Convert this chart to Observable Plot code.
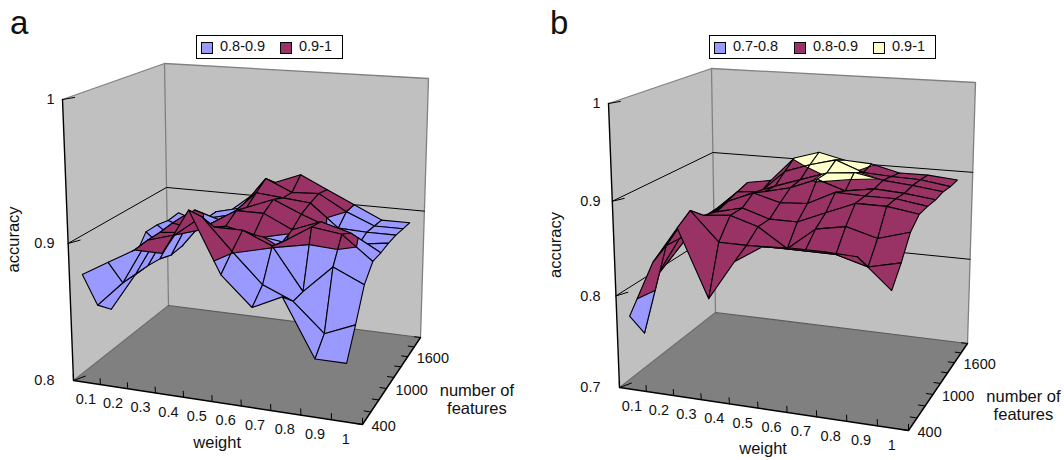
<!DOCTYPE html>
<html>
<head>
<meta charset="utf-8">
<script src="https://cdn.jsdelivr.net/npm/d3@7"></script>
<script src="https://cdn.jsdelivr.net/npm/@observablehq/plot@0.6"></script>
<style>
html,body{margin:0;padding:0;background:#fff;}
#page{position:relative;width:1064px;height:460px;overflow:hidden;font-family:"Liberation Sans",Arial,sans-serif;color:#111;}
#page svg{position:absolute;top:0;background:transparent;}
.letter{position:absolute;font-size:33px;line-height:33px;}
.legend{position:absolute;top:35px;height:22px;border:1px solid #000;background:#fff;font-size:14.5px;white-space:nowrap;}
.legend i{position:absolute;top:6px;width:10px;height:10px;border:1px solid #000;}
.legend span{position:absolute;top:2px;line-height:17px;}
</style>
</head>
<body>
<div id="page"></div>
<script>
// ---------- data ----------
const weights = ["0.1","0.2","0.3","0.4","0.5","0.6","0.7","0.8","0.9","1"];
const features = [400,600,800,1000,1200,1400,1600,1800,2000];
const featureLabels = [400,1000,1600];

const accuracyA = [
 [.879,.890,.901,.901,.933,.891,.871,.881,.841,.841],
 [.850,.869,.902,.908,.923,.901,.880,.871,.851,.860],
 [.840,.869,.902,.904,.910,.910,.901,.871,.891,.881],
 [.853,.869,.903,.901,.905,.901,.898,.911,.908,.891],
 [.867,.868,.903,.899,.911,.911,.901,.909,.903,.891],
 [.881,.865,.902,.896,.908,.916,.907,.899,.889,.892],
 [.881,.866,.890,.895,.914,.912,.910,.893,.892,.892],
 [.879,.872,.890,.895,.920,.911,.912,.900,.891,.891],
 [.880,.873,.883,.899,.912,.920,.910,.900,.890,.890]
];
const accuracyB = [
 [.780,.841,.880,.810,.852,.871,.873,.873,.872,.842],
 [.751,.850,.890,.860,.860,.861,.861,.861,.852,.860],
 [.803,.849,.877,.880,.871,.851,.875,.881,.872,.882],
 [.812,.849,.873,.880,.871,.871,.884,.897,.897,.892],
 [.823,.853,.877,.889,.881,.883,.898,.897,.897,.892],
 [.830,.856,.873,.883,.890,.902,.892,.897,.895,.891],
 [.838,.858,.871,.882,.892,.902,.905,.899,.896,.892],
 [.838,.863,.866,.892,.902,.910,.898,.896,.895,.890],
 [.837,.867,.872,.901,.910,.903,.901,.893,.893,.890]
];
const ticksA = [0.8,0.9,1];
const ticksB = [0.7,0.8,0.9,1];
const bandsA = [{lo:0.8,hi:0.9,label:"0.8-0.9",color:"#9999ff"},{lo:0.9,hi:1,label:"0.9-1",color:"#993366"}];
const bandsB = [{lo:0.7,hi:0.8,label:"0.7-0.8",color:"#9999ff"},{lo:0.8,hi:0.9,label:"0.8-0.9",color:"#993366"},{lo:0.9,hi:1,label:"0.9-1",color:"#ffffcc"}];

// camera of each panel: corners of the floor and of the top of the box, page pixels
const boxA = {floor:[[73,380],[362,424],[420,337],[168,305]], top:[[62,99],[363,125],[428,78],[164,63]]};
const boxB = {floor:[[619,387],[908,430],[967,343],[715,312]], top:[[608,103],[909,131],[975,82],[711,68]]};

// ---------- projection ----------
function homography(q){
  const [[x0,y0],[x1,y1],[x2,y2],[x3,y3]] = q;
  const dx1=x1-x2,dx2=x3-x2,sx=x0-x1+x2-x3,dy1=y1-y2,dy2=y3-y2,sy=y0-y1+y2-y3;
  const den=dx1*dy2-dx2*dy1, g=(sx*dy2-dx2*sy)/den, h=(dx1*sy-sx*dy1)/den;
  const a=x1-x0+g*x1,b=x3-x0+h*x3,d=y1-y0+g*y1,e=y3-y0+h*y3;
  return (u,v)=>{const w=g*u+h*v+1;return [(a*u+b*v+x0)/w,(d*u+e*v+y0)/w];};
}
function makeProjector(box,zMin,zMax,offset){
  const F=homography(box.floor),T=homography(box.top),k=1.05;
  return (u,v,z)=>{
    const w=(z-zMin)/(zMax-zMin),t=w/(w+k*(1-w));
    const a=F(u,v),b=T(u,v);
    return [a[0]+t*(b[0]-a[0])-offset,a[1]+t*(b[1]-a[1])];
  };
}
function clip(poly,keep,cross){
  const out=[];
  poly.forEach((p,i)=>{
    const n=poly[(i+1)%poly.length];
    const pk=keep(p),nk=keep(n);
    if(pk) out.push(p);
    if(pk!==nk){const s=(cross-p[2])/(n[2]-p[2]);out.push([p[0]+s*(n[0]-p[0]),p[1]+s*(n[1]-p[1]),cross]);}
  });
  return out;
}

function panel({box,matrix,bands,ticks,offset,accDx}){
  const zMin=ticks[0],zMax=ticks[ticks.length-1];
  const P=makeProjector(box,zMin,zMax,offset);
  const nU=weights.length,nV=features.length;
  const U=i=>(i+.5)/nU,V=j=>j/(nV-1);

  // surface pieces, painted from the back row to the front row
  const pieces=[];let id=0;
  const push=(pts,fill,stroke,sw)=>{
    const n=id++;
    pts.forEach(p=>{const q=P(p[0],p[1],p[2]);pieces.push({id:n,x:q[0],y:q[1],fill,stroke,sw});});
  };
  for(let j=nV-2;j>=0;j--){
    for(let i=0;i<nU-1;i++){
      const quad=[[U(i),V(j),matrix[j][i]],[U(i+1),V(j),matrix[j][i+1]],[U(i+1),V(j+1),matrix[j+1][i+1]],[U(i),V(j+1),matrix[j+1][i]]];
      bands.forEach(b=>{
        let poly=clip(quad,p=>p[2]>=b.lo,b.lo);
        if(poly.length) poly=clip(poly,p=>p[2]<=b.hi,b.hi);
        if(poly.length>2) push([...poly,poly[0]],b.color,b.color,0.4);
      });
      // contour lines between the bands
      bands.slice(1).forEach(b=>{
        const cross=[];
        quad.forEach((p,k)=>{
          const n=quad[(k+1)%4];
          if((p[2]<b.lo)!==(n[2]<b.lo)){const s=(b.lo-p[2])/(n[2]-p[2]);cross.push([p[0]+s*(n[0]-p[0]),p[1]+s*(n[1]-p[1]),b.lo]);}
        });
        for(let c=0;c+1<cross.length;c+=2) push([cross[c],cross[c+1]],"none","#000",1.1);
      });
      push([...quad,quad[0]],"none","#000",1.1);
    }
  }

  const seg=(...pts)=>pts.map(p=>{const q=P(p[0],p[1],p[2]);return {x:q[0],y:q[1]};});
  const closed=pts=>seg(...pts,pts[0]);
  const fillShape=(pts,color)=>Plot.line(closed(pts),{x:"x",y:"y",fill:color,stroke:"none"});
  const edge=(pts,color,w)=>Plot.line(seg(...pts),{x:"x",y:"y",stroke:color,strokeWidth:w});
  const label=(rows,opts)=>Plot.text(rows,{x:"x",y:"y",text:"t",fontFamily:"Liberation Sans",fontSize:14.5,fill:"#111",...opts});
  const title=(rows,opts)=>label(rows,{fontSize:16.5,...opts});

  const gridMarks=[];
  ticks.slice(1,-1).forEach(t=>{gridMarks.push(edge([[0,0,t],[0,1,t],[1,1,t]],"#000",1));});
  const topX=P(0,0,zMax)[0];
  const yTicks=ticks.map(t=>({x:topX,y:P(0,0,t)[1],t:String(t)}));
  const yTickMarks=ticks.map(t=>edge([[0,0,t],[0.02,0.06,t]],"#000",1));
  const xTicks=d3.range(nU+1).map(i=>edge([[i/nU,0,zMin],[i/nU,0,zMin+0.022*(zMax-zMin)]],"#000",1));
  const vTicks=d3.range(nV).map(j=>edge([[1,j/(nV-1),zMin],[0.978,j/(nV-1),zMin]],"#000",1));
  const xLabels=weights.map((t,i)=>{const q=P(U(i),0,zMin);return {x:q[0],y:q[1],t};});
  const vLabels=featureLabels.map(f=>{const q=P(1,features.indexOf(f)/(nV-1),zMin);return {x:q[0],y:q[1],t:String(f)};});
  const mid=(u,v,z)=>{const q=P(u,v,z);return [{x:q[0],y:q[1]}];};

  return Plot.plot({
    width:532,height:460,margin:0,
    x:{domain:[0,532],range:[0,532],axis:null},
    y:{domain:[0,460],range:[0,460],axis:null},
    color:{type:"identity"},
    style:{background:"transparent"},
    marks:[
      fillShape([[0,0,zMin],[0,1,zMin],[0,1,zMax],[0,0,zMax]],"#c0c0c0"),
      fillShape([[0,1,zMin],[1,1,zMin],[1,1,zMax],[0,1,zMax]],"#c0c0c0"),
      fillShape([[0,0,zMin],[1,0,zMin],[1,1,zMin],[0,1,zMin]],"#808080"),
      edge([[0,0,zMax],[0,1,zMax],[1,1,zMax],[1,1,zMin]],"#808080",1.3),
      edge([[0,1,zMax],[0,1,zMin]],"#808080",1.3),
      edge([[0,0,zMin],[0,1,zMin]],"#6e6e6e",1.2),
      edge([[0,1,zMin],[1,1,zMin]],"#5a5a5a",1.2),
      ...gridMarks,
      edge([[0,0,zMax],[0,0,zMin],[1,0,zMin],[1,1,zMin]],"#000",1.4),
      ...yTickMarks,...xTicks,...vTicks,
      Plot.line(pieces,{x:"x",y:"y",z:"id",fill:"fill",stroke:"stroke",strokeWidth:"sw",strokeLinejoin:"round"}),
      label(yTicks,{textAnchor:"end",dx:-8}),
      label(xLabels,{dx:-1,dy:17}),
      label(vLabels,{textAnchor:"start",dx:9,dy:2}),
      title(mid(0.5,0,zMin).map(d=>({...d,t:"weight"})),{dy:41,dx:5}),
      title(mid(0,0,(zMin+zMax)/2).map(d=>({...d,t:"accuracy"})),{rotate:-90,dx:accDx,dy:-4}),
      title(mid(1,0.5,zMin).map(d=>({...d,t:"number of"})),{dx:83,dy:13}),
      title(mid(1,0.5,zMin).map(d=>({...d,t:"features"})),{dx:83,dy:31})
    ]
  });
}

const page=document.getElementById("page");
function addPanel(spec,letterLeft,legendBox){
  const svg=panel(spec);
  svg.style.left=spec.offset+"px";
  page.appendChild(svg);
  const l=document.createElement("div");l.className="letter";l.textContent=spec.letter;
  l.style.left=letterLeft+"px";l.style.top="6px";page.appendChild(l);
  const g=document.createElement("div");g.className="legend";
  g.style.left=legendBox.left+"px";g.style.width=legendBox.width+"px";
  spec.bands.forEach((b,k)=>{
    const i=document.createElement("i");i.style.background=b.color;i.style.left=legendBox.swatches[k]+"px";g.appendChild(i);
    const s=document.createElement("span");s.textContent=b.label;s.style.left=(legendBox.swatches[k]+19)+"px";g.appendChild(s);
  });
  page.appendChild(g);
}
addPanel({box:boxA,matrix:accuracyA,bands:bandsA,ticks:ticksA,offset:0,letter:"a",accDx:-54},10,{left:196,width:145,swatches:[4,83]});
addPanel({box:boxB,matrix:accuracyB,bands:bandsB,ticks:ticksB,offset:532,letter:"b",accDx:-58},550,{left:709,width:225,swatches:[4,84,163]});
</script>
</body>
</html>
